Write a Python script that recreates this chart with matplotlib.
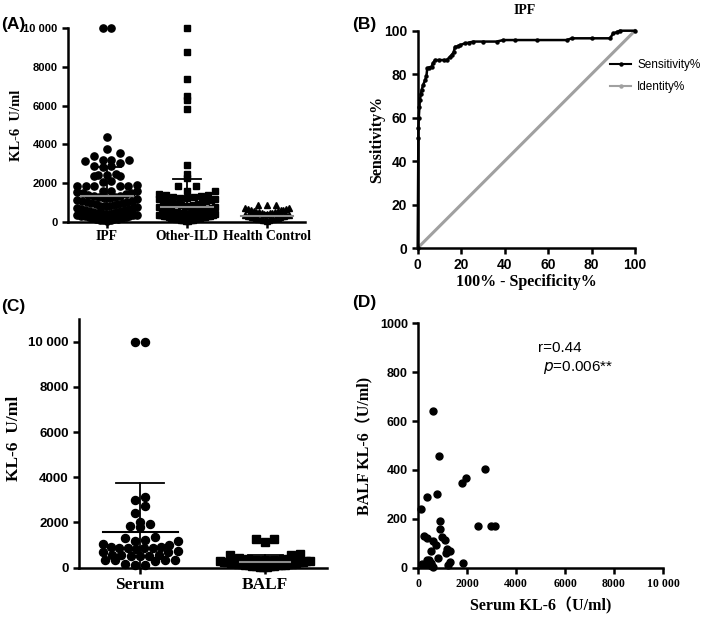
import numpy as np
import matplotlib
matplotlib.use("Agg")
import matplotlib.pyplot as plt
from matplotlib.lines import Line2D

# ---------------- data ----------------
# Panel A
groups_A = ["IPF", "Other-ILD", "Health Control"]
ipf_vals = [10000, 10000, 4400, 3750, 3550, 3420, 3220, 3180, 3120, 3050, 3200,
            2900, 2880, 2850, 2450, 2420, 2400, 2380, 2350, 2100, 2050, 1900,
            1880, 1870, 1860, 1850, 1840, 1600, 1580, 1550, 1620, 1500, 1480, 1450,
            1390, 1365, 1330, 1310, 1275, 1240, 1215, 1170, 1135, 1100, 1085, 1050,
            1030, 990, 965, 930, 905, 875, 850, 825, 800, 770, 745, 715, 690, 665,
            640, 615, 585, 560, 530, 505, 480, 465, 440, 420, 400, 385, 360, 340,
            325, 300, 285, 260, 245, 220, 205, 180, 165, 140, 125, 100, 85, 70]
oild_vals = [10000, 8750, 7350, 6500, 6300, 5820, 2940, 2480, 2250, 1850, 1830,
             1620, 1580, 1430, 1395, 1370, 1340, 1310, 1285, 1250, 1220, 1190,
             1160, 1125, 1090, 1060, 1030, 1000, 975, 945, 920, 890, 860, 835,
             810, 790, 765, 740, 715, 690, 670, 645, 620, 600, 580, 560, 540, 520,
             505, 490, 470, 455, 440, 425, 410, 395, 380, 365, 350, 335, 320, 305,
             290, 275, 260, 245, 230, 215, 200, 185, 170, 155, 140, 125, 110, 95,
             80, 65, 50]
hc_vals = [880, 870, 860, 720, 700, 680, 660, 640, 620, 600, 580, 560, 540, 520,
           500, 480, 460, 440, 420, 400, 380, 360, 345, 330, 315, 300, 285, 270,
           255, 240, 225, 210, 195, 180, 165, 150, 135, 120, 105, 90, 75]
mean_A = [1340, 760, 300]
sd_A = [1480, 1470, 170]

# Panel B (ROC)
roc_x = [0, 0.3, 0.3, 0.5, 0.8, 1.0, 1.5, 1.8, 2.5, 3.4, 4.0, 4.4, 5.0, 6.4,
         7.0, 8.0, 10.0, 12.0, 13.3, 14.9, 15.6, 16.5, 17.2, 18.5, 19.5, 21.8,
         23.5, 25.6, 30.0, 36.3, 39.4, 45.0, 55.0, 68.6, 70.9, 80.0, 88.5, 90.0,
         91.5, 93.0, 100]
roc_y = [0, 50.5, 55, 60, 65, 68, 71, 72.7, 75, 77.3, 79, 82.7, 83, 83.5, 85,
         86.5, 86.5, 86.5, 86.5, 88, 88.8, 90, 92.6, 92.8, 93.4, 94.2, 94.5, 95,
         95, 95, 95.7, 95.7, 95.7, 95.7, 96.5, 96.5, 96.5, 98.8, 99.3, 100, 100]
ident = [0, 100]

# Panel C
groups_C = ["Serum", "BALF"]
serum_vals = [10000, 10000, 3140, 3000, 2730, 2430, 2000, 1930, 1860, 1790, 1370,
              1300, 1220, 1200, 1180, 1050, 1020, 920, 900, 880, 870, 860, 850,
              820, 720, 700, 680, 560, 550, 540, 530, 520, 500, 360, 340, 330,
              320, 300, 150, 140, 120]
balf_vals = [1250, 1150, 1250, 620, 560, 540, 420, 400, 380, 360, 340, 330, 310,
             300, 290, 270, 250, 240, 230, 220, 200, 190, 180, 170, 160, 150, 140,
             130, 120, 110, 100, 90, 80, 70, 60, 50, 40, 30]
mean_C = [1590, 230]
sd_C = [2170, 340]

# Panel D
serum_kl6 = [585, 860, 2720, 1770, 1945, 367, 750, 110, 884, 884, 2420, 2990,
             3130, 230, 367, 950, 1090, 612, 720, 517, 1160, 1290, 1130, 816, 340,
             1290, 1840, 136, 272, 476, 500, 1220, 612, 560, 420]
balf_kl6 = [642, 458, 404, 348, 366, 291, 302, 239, 192, 160, 172, 170, 170, 130,
            120, 127, 113, 110, 93, 70, 75, 70, 59, 38, 31, 25, 20, 14, 14, 10, 18,
            11, 4, 8, 30]

# ---------------- helpers ----------------
SANS = "Liberation Sans"
SERIF = "Liberation Serif"
W, H = 709, 617


def rect(left, top, right, bottom):
    return [left / W, 1 - bottom / H, (right - left) / W, (bottom - top) / H]


def swarm(vals, bin_h, step, maxw):
    vals = np.asarray(vals, float)
    off = np.zeros(len(vals))
    bins = np.floor(vals / bin_h)
    for b in np.unique(bins):
        idx = np.where(bins == b)[0]
        idx = idx[np.argsort(vals[idx])]
        n = len(idx)
        if n == 1:
            continue
        s = min(step, 2 * maxw / (n - 1))
        pos = np.arange(n) - (n - 1) / 2.0
        order = np.argsort(np.abs(pos), kind="stable")
        off[idx] = pos[order] * s
    return off


def style_axes(ax, lw=1.8):
    for s in ["top", "right"]:
        ax.spines[s].set_visible(False)
    for s in ["left", "bottom"]:
        ax.spines[s].set_linewidth(lw)
    ax.tick_params(width=lw, length=4, direction="out")


def errbar(ax, x, m, sd, mhalf, chalf, mcolor="#8a8a8a"):
    ax.plot([x, x], [m - sd, m + sd], color="black", lw=1.3, zorder=5)
    ax.plot([x - chalf, x + chalf], [m + sd, m + sd], color="black", lw=1.3, zorder=5)
    ax.plot([x - mhalf, x + mhalf], [m, m], color=mcolor, lw=1.5, zorder=5)


fig = plt.figure(figsize=(W / 100, H / 100), dpi=100)

# ---------------- Panel A ----------------
axA = fig.add_axes(rect(68, 28, 305, 222))
style_axes(axA)
markersA = ["o", "s", "^"]
sizesA = [5.2, 4.6, 4.2]
widthA = [0.37, 0.35, 0.27]
for i, vals in enumerate([ipf_vals, oild_vals, hc_vals]):
    off = swarm(vals, 400, 0.11, widthA[i])
    axA.plot(i + off, vals, linestyle="none", marker=markersA[i], ms=sizesA[i],
             color="black", mec="black", zorder=3, clip_on=False)
    errbar(axA, i, mean_A[i], sd_A[i], 0.32, 0.17)
axA.set_xlim(-0.4875, 2.475)
axA.set_ylim(0, 10000)
axA.set_yticks([0, 2000, 4000, 6000, 8000, 10000])
axA.set_yticklabels(["0", "2000", "4000", "6000", "8000", "10 000"],
                    family=SANS, weight="bold", fontsize=8)
axA.set_xticks([0, 1, 2])
axA.set_xticklabels(groups_A, family=SERIF, weight="bold", fontsize=9.8)
axA.tick_params(axis="x", pad=2)
axA.set_ylabel("KL-6  U/ml", family=SERIF, weight="bold", fontsize=10.5)
axA.yaxis.set_label_coords(-0.19, 0.5)

# ---------------- Panel B ----------------
axB = fig.add_axes(rect(417.7, 30.7, 635, 248))
style_axes(axB)
axB.plot(ident, ident, color="#a0a0a0", lw=2.2, zorder=2, clip_on=False)
axB.plot(roc_x, roc_y, color="black", lw=1.8, marker="o", ms=2.2, zorder=3,
         clip_on=False)
axB.set_xlim(0, 100)
axB.set_ylim(0, 100)
axB.set_xticks(range(0, 101, 20))
axB.set_yticks(range(0, 101, 20))
for lab in axB.get_xticklabels() + axB.get_yticklabels():
    lab.set_family(SANS)
    lab.set_weight("bold")
    lab.set_fontsize(10)
axB.set_xlabel("100% - Specificity%", family=SERIF, weight="bold", fontsize=11.5,
               labelpad=1)
axB.set_ylabel("Sensitivity%", family=SERIF, weight="bold", fontsize=11.5)
axB.yaxis.set_label_coords(-0.15, 0.5)
fig.text(525 / W, 1 - 10 / H, "IPF", family=SERIF, weight="bold", fontsize=10,
         ha="center", va="center")
handles = [Line2D([], [], color="black", lw=1.5, marker="o", ms=2.2),
           Line2D([], [], color="#a0a0a0", lw=1.5, marker="o", ms=2.2)]
fig.legend(handles, ["Sensitivity%", "Identity%"], loc="upper left",
           bbox_to_anchor=(610 / W, 1 - 59 / H), frameon=False,
           prop={"family": SANS, "size": 8.5}, handlelength=1.8,
           handletextpad=0.5, labelspacing=0.85, borderpad=0, borderaxespad=0)

# ---------------- Panel C ----------------
axC = fig.add_axes(rect(79, 319, 327, 567.7))
style_axes(axC)
offS = swarm(serum_vals, 400, 0.08, 0.3)
axC.plot(0 + offS, serum_vals, linestyle="none", marker="o", ms=5.8,
         color="black", zorder=3, clip_on=False)
offB = swarm(balf_vals, 330, 0.07, 0.36)
axC.plot(1 + offB, balf_vals, linestyle="none", marker="s", ms=5.2,
         color="black", zorder=3, clip_on=False)
errbar(axC, 0, mean_C[0], sd_C[0], 0.3, 0.19, mcolor="black")
errbar(axC, 1, mean_C[1], sd_C[1], 0.2, 0.14, mcolor="#8a8a8a")
axC.set_xlim(-0.488, 1.496)
axC.set_ylim(0, 11000)
axC.set_yticks([0, 2000, 4000, 6000, 8000, 10000])
axC.set_yticklabels(["0", "2000", "4000", "6000", "8000", "10 000"],
                    family=SANS, weight="bold", fontsize=9.5)
axC.set_xticks([0, 1])
axC.set_xticklabels(groups_C, family=SERIF, weight="bold", fontsize=12.5)
axC.tick_params(axis="x", pad=3)
axC.set_ylabel("KL-6  U/ml", family=SERIF, weight="bold", fontsize=12.5)
axC.yaxis.set_label_coords(-0.23, 0.52)

# ---------------- Panel D ----------------
axD = fig.add_axes(rect(418.3, 323.3, 663, 567.7))
style_axes(axD)
axD.plot(serum_kl6, balf_kl6, linestyle="none", marker="o", ms=5, color="black",
         zorder=3, clip_on=False)
axD.set_xlim(0, 10000)
axD.set_ylim(0, 1000)
axD.set_xticks([0, 2000, 4000, 6000, 8000, 10000])
axD.set_xticklabels(["0", "2000", "4000", "6000", "8000", "10 000"],
                    family=SERIF, weight="bold", fontsize=8.5)
axD.set_yticks([0, 200, 400, 600, 800, 1000])
axD.set_yticklabels(["0", "200", "400", "600", "800", "1000"],
                    family=SANS, weight="bold", fontsize=9)
axD.set_xlabel("Serum KL-6（U/ml)", family=[SERIF, "Noto Sans CJK SC"],
               weight="bold", fontsize=11.5, labelpad=5)
axD.set_ylabel("BALF KL-6（U/ml)", family=[SERIF, "Noto Sans CJK SC"],
               weight="bold", fontsize=11.5, labelpad=5)
fig.text(538 / W, 1 - 348 / H, "r=0.44", family=SANS, fontsize=11,
         ha="left", va="center")
fig.text(543 / W, 1 - 368 / H, r"$\it{p}$=0.006**", family=SANS, fontsize=11,
         ha="left", va="center")

# ---------------- panel letters ----------------
for txt, px, py in [("(A)", 1, 24), ("(B)", 352, 24), ("(C)", 1, 306), ("(D)", 352, 303)]:
    fig.text(px / W, 1 - py / H, txt, family=SANS, weight="bold", fontsize=12.5,
             ha="left", va="center")

fig.savefig("out.png", dpi=100)
